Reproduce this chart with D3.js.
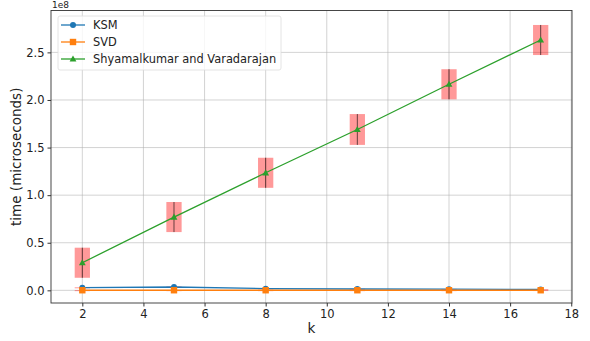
<!DOCTYPE html>
<html><head><meta charset="utf-8">
<script src="https://cdn.jsdelivr.net/npm/d3@7"></script>
<style>body{margin:0;background:#fff;} text{font-family:"DejaVu Sans",sans-serif;}</style>
</head><body><svg id="c" width="590" height="341"></svg>
<script>
const ks = [2, 5, 8, 11, 14, 17];
const ksm = [0.028e8, 0.035e8, 0.018e8, 0.014e8, 0.012e8, 0.010e8];
const ksmErr = [0.004e8, 0.006e8, 0.003e8, 0.003e8, 0.003e8, 0.003e8];
const svd = [0.001e8, 0.001e8, 0.001e8, 0.001e8, 0.001e8, 0.001e8];
const svdErr = [0.001e8, 0.001e8, 0.001e8, 0.001e8, 0.001e8, 0.002e8];
const shy = [0.29e8, 0.77e8, 1.235e8, 1.69e8, 2.165e8, 2.63e8];
const shyErr = [0.158e8, 0.158e8, 0.158e8, 0.162e8, 0.158e8, 0.158e8];
const xTicks = [2, 4, 6, 8, 10, 12, 14, 16, 18];
const yTicks = [0, 0.5e8, 1.0e8, 1.5e8, 2.0e8, 2.5e8];
const yTickLabels = ["0.0", "0.5", "1.0", "1.5", "2.0", "2.5"];
const seriesNames = ["KSM", "SVD", "Shyamalkumar and Varadarajan"];
const colors = ["#1f77b4", "#ff7f0e", "#2ca02c"];

const L = 51, R = 572, T = 10.5, B = 303;
const svg = d3.select("#c");
const x = d3.scaleLinear().domain([0.975, 18.025]).range([L, R]);
const y = d3.scaleLinear().domain([-0.133e8, 2.94e8]).range([B, T]);

// grid
const g = svg.append("g");
g.selectAll(".gx").data(xTicks).join("line")
  .attr("x1", d => x(d)).attr("x2", d => x(d)).attr("y1", T).attr("y2", B)
  .attr("stroke", "#b0b0b0").attr("stroke-opacity", 0.7).attr("stroke-width", 0.8);
g.selectAll(".gy").data(yTicks).join("line")
  .attr("x1", L).attr("x2", R).attr("y1", d => y(d)).attr("y2", d => y(d))
  .attr("stroke", "#b0b0b0").attr("stroke-opacity", 0.7).attr("stroke-width", 0.8);

// error boxes
const series = [
  {v: ksm, e: ksmErr, c: colors[0], m: "circle"},
  {v: svd, e: svdErr, c: colors[1], m: "square"},
  {v: shy, e: shyErr, c: colors[2], m: "triangle"}
];
series.forEach(s => {
  svg.append("g").selectAll("rect").data(ks).join("rect")
    .attr("x", d => x(d - 0.25)).attr("width", d => x(d + 0.25) - x(d - 0.25))
    .attr("y", (d, i) => y(s.v[i] + s.e[i]))
    .attr("height", (d, i) => Math.max(1, y(s.v[i] - s.e[i]) - y(s.v[i] + s.e[i])))
    .attr("fill", "#ff0000").attr("fill-opacity", 0.4);
  svg.append("g").selectAll("line").data(ks).join("line")
    .attr("x1", d => x(d)).attr("x2", d => x(d))
    .attr("y1", (d, i) => y(s.v[i] + s.e[i])).attr("y2", (d, i) => y(s.v[i] - s.e[i]))
    .attr("stroke", "#000").attr("stroke-opacity", 0.6).attr("stroke-width", 1);
});

function marker(sel, type, c) {
  if (type === "circle") {
    sel.append("circle").attr("r", 3).attr("fill", c);
  } else if (type === "square") {
    sel.append("rect").attr("x", -3.2).attr("y", -3.2).attr("width", 6.4).attr("height", 6.4).attr("fill", c);
  } else {
    sel.append("path").attr("d", "M0,-3.6L3.4,2.6L-3.4,2.6Z").attr("fill", c);
  }
}

series.forEach(s => {
  const line = d3.line().x((d, i) => x(ks[i])).y(d => y(d));
  svg.append("path").datum(s.v).attr("d", line).attr("fill", "none")
    .attr("stroke", s.c).attr("stroke-width", 1.3);
  s.v.forEach((v, i) => {
    const mg = svg.append("g").attr("transform", `translate(${x(ks[i])},${y(v)})`);
    marker(mg, s.m, s.c);
  });
});

// axes frame
svg.append("rect").attr("x", L).attr("y", T).attr("width", R - L).attr("height", B - T)
  .attr("fill", "none").attr("stroke", "#333").attr("stroke-width", 0.9);

const xa = svg.append("g").attr("transform", `translate(0,${B})`)
  .call(d3.axisBottom(x).tickValues(xTicks).tickSize(3.5).tickSizeOuter(0).tickPadding(3));
const ya = svg.append("g").attr("transform", `translate(${L},0)`)
  .call(d3.axisLeft(y).tickValues(yTicks).tickFormat((d, i) => yTickLabels[i]).tickSize(3.5).tickSizeOuter(0).tickPadding(3));
[xa, ya].forEach(a => {
  a.select(".domain").remove();
  a.selectAll("line").attr("stroke", "#333");
  a.selectAll("text").attr("font-size", "11.5px").attr("fill", "#222").style("font-family", "DejaVu Sans");
});

svg.append("text").attr("x", L + 1).attr("y", 8).attr("font-size", "9px").attr("fill", "#222").text("1e8");
svg.append("text").attr("x", (L + R) / 2).attr("y", 333).attr("text-anchor", "middle")
  .attr("font-size", "13.5px").attr("fill", "#222").text("k");
svg.append("text").attr("transform", `translate(21,${(T + B) / 2}) rotate(-90)`).attr("text-anchor", "middle")
  .attr("font-size", "13.5px").attr("fill", "#222").text("time (microseconds)");

// legend
const lg = svg.append("g");
lg.append("rect").attr("x", 58).attr("y", 16).attr("width", 223).attr("height", 54).attr("rx", 2)
  .attr("fill", "#fff").attr("fill-opacity", 0.8).attr("stroke", "#ddd").attr("stroke-width", 0.8);
seriesNames.forEach((n, i) => {
  const yy = 25 + i * 17;
  lg.append("line").attr("x1", 61).attr("x2", 85).attr("y1", yy).attr("y2", yy)
    .attr("stroke", colors[i]).attr("stroke-width", 1.3);
  const mg = lg.append("g").attr("transform", `translate(73,${yy})`);
  marker(mg, series[i].m, colors[i]);
  lg.append("text").attr("x", 93).attr("y", yy + 4.3).attr("font-size", "11.4px").attr("fill", "#222").text(n);
});
</script></body></html>
